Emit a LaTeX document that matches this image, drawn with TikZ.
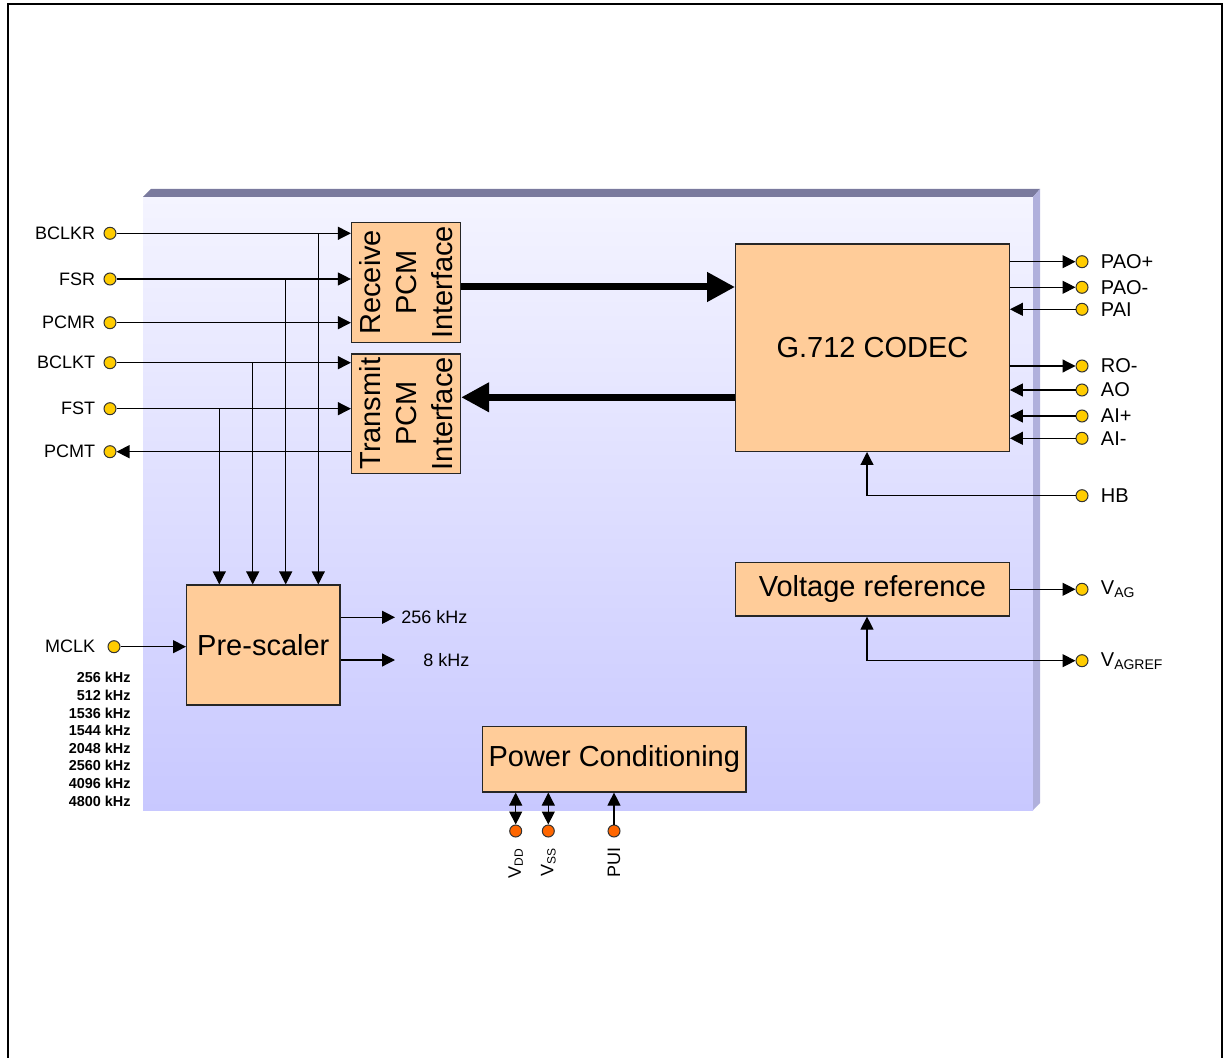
\documentclass[tikz,border=0pt]{standalone}
\usepackage{fontspec}
\setmainfont{Liberation Sans}
\usetikzlibrary{arrows.meta, positioning, calc}
\definecolor{codecPeach}{HTML}{FFCC99}
\definecolor{codecPin}{HTML}{FFCC00}
\definecolor{codecPwrPin}{HTML}{FF6600}
\definecolor{codecFaceTop}{HTML}{F4F4FF}
\definecolor{codecFaceBot}{HTML}{C8C8FF}
\definecolor{codecBevel}{HTML}{7A7A9E}
\definecolor{codecSide}{HTML}{B0B0DC}

\begin{document}
\begin{tikzpicture}[
        x=0.5pt, y=-0.5pt,
        >={Triangle[length=6.5pt, width=6.5pt]},
        blockbox/.style={
            draw=black!85,
            line width=0.6pt,
            fill=codecPeach,
            inner sep=0pt,
            font=\fontsize{14.5}{17.5}\selectfont
        },
        blocktext/.style={
            align=center,
            inner sep=0pt,
            font=\fontsize{14.5}{18}\selectfont
        },
        pinnode/.style={
            circle,
            draw=black!80,
            line width=0.5pt,
            fill=codecPin,
            inner sep=0pt,
            minimum size=6pt
        },
        pwrpin/.style={
            pinnode,
            fill=codecPwrPin
        },
        pinlbl/.style={
            inner sep=1pt,
            font=\fontsize{9}{10}\selectfont
        },
        rpinlbl/.style={
            inner sep=1pt,
            font=\fontsize{10}{11}\selectfont
        },
        freqlbl/.style={
            align=right,
            inner sep=0pt,
            font=\bfseries\fontsize{7.2}{8.8}\selectfont
        },
        sig/.style={
            line width=0.6pt
        },
        bus/.style={
            line width=3.5pt,
            -{Triangle[length=14pt, width=14pt]}
        }
    ]

    \useasboundingbox (0,0) rectangle (1225,1058);

    % outer frame and the chip body
    \draw[line width=1.4pt] (8,1080) -- (8,4) -- (1222,4) -- (1222,1080);
    \shade[top color=codecFaceTop, bottom color=codecFaceBot]
        (143,197) rectangle (1033,810);
    \fill[codecBevel] (143,197) -- (151,189) -- (1040,189) -- (1033,197) -- cycle;
    \fill[codecSide] (1033,197) -- (1040,189) -- (1040,803) -- (1033,810) -- cycle;

    % blocks
    \node[blockbox, minimum width=54.5pt, minimum height=60pt] (rcv) at (406,282.3) {};
    \node[blocktext, rotate=90] (rcvtext) at (rcv.center) {Receive\\PCM\\Interface};
    \node[blockbox, minimum width=54.5pt, minimum height=59.7pt] (xmt) at (406,413.7) {};
    \node[blocktext, rotate=90] (xmttext) at (xmt.center) {Transmit\\PCM\\Interface};
    \node[blockbox, minimum width=136.8pt, minimum height=103.7pt] (codec) at (872.5,347.7) {G.712 CODEC};
    \node[blockbox, minimum width=76.7pt, minimum height=60pt] (pre) at (263.3,645) {Pre-scaler};
    \node[blockbox, minimum width=136.8pt, minimum height=26.7pt] (vref) at (872.5,589.3) {Voltage reference};
    \node[blockbox, minimum width=131.7pt, minimum height=32.7pt] (pwr) at (614.3,759.3) {Power Conditioning};

    % left pins
    \node[pinnode, label={[pinlbl, label distance=3pt]left:BCLKR}] (bclkr) at (110,233.3) {};
    \node[pinnode, label={[pinlbl, label distance=3pt]left:FSR}] (fsr) at (110,279) {};
    \node[pinnode, label={[pinlbl, label distance=3pt]left:PCMR}] (pcmr) at (110,322.7) {};
    \node[pinnode, label={[pinlbl, label distance=3pt]left:BCLKT}] (bclkt) at (110,362.7) {};
    \node[pinnode, label={[pinlbl, label distance=3pt]left:FST}] (fst) at (110,408.7) {};
    \node[pinnode, label={[pinlbl, label distance=3pt]left:PCMT}] (pcmt) at (110,451.7) {};
    \node[pinnode, label={[pinlbl, label distance=5pt]left:MCLK}] (mclk) at (114,646.7) {};
    \node[freqlbl, anchor=north east] (mclkfreq) at (131,672)
        {256 kHz\\512 kHz\\1536 kHz\\1544 kHz\\2048 kHz\\2560 kHz\\4096 kHz\\4800 kHz};

    % right pins
    \node[pinnode, label={[rpinlbl, label distance=5pt]right:PAO+}] (paop) at (1082,261.7) {};
    \node[pinnode, label={[rpinlbl, label distance=5pt]right:PAO-}] (paom) at (1082,287.3) {};
    \node[pinnode, label={[rpinlbl, label distance=5pt]right:PAI}] (pai) at (1082,309.3) {};
    \node[pinnode, label={[rpinlbl, label distance=5pt]right:RO-}] (rom) at (1082,366) {};
    \node[pinnode, label={[rpinlbl, label distance=5pt]right:AO}] (ao) at (1082,390) {};
    \node[pinnode, label={[rpinlbl, label distance=5pt]right:AI+}] (aip) at (1082,416) {};
    \node[pinnode, label={[rpinlbl, label distance=5pt]right:AI-}] (aim) at (1082,438.3) {};
    \node[pinnode, label={[rpinlbl, label distance=5pt]right:HB}] (hb) at (1082,495.7) {};
    \node[pinnode, label={[rpinlbl, label distance=5pt]right:V\textsubscript{AG}}] (vag) at (1082,589.3) {};
    \node[pinnode, label={[rpinlbl, label distance=5pt]right:V\textsubscript{AGREF}}] (vagref) at (1082,660.7) {};

    % power pins
    \node[pwrpin] (vdd) at (515.7,831) {};
    \node[pwrpin] (vss) at (548.3,831) {};
    \node[pwrpin] (pui) at (614,831) {};
    \node[pinlbl, rotate=90, anchor=east] (vddlbl) at ([yshift=-4pt]vdd.south) {V\textsubscript{DD}};
    \node[pinlbl, rotate=90, anchor=east] (vsslbl) at ([yshift=-4pt]vss.south) {V\textsubscript{SS}};
    \node[pinlbl, rotate=90, anchor=east] (puilbl) at ([yshift=-4pt]pui.south) {PUI};

    % prescaler outputs
    \node[pinlbl, inner sep=3pt, anchor=west] (f256) at (395,617.3) {256 kHz};
    \node[pinlbl, inner sep=3pt, anchor=west] (f8) at (417,660) {8 kHz};

    % tap columns and bus rows
    \coordinate (xA) at (318.3,0);
    \coordinate (xB) at (285.7,0);
    \coordinate (xC) at (252.7,0);
    \coordinate (xD) at (219.3,0);
    \coordinate (xH) at (867,0);
    \coordinate (yR) at (0,287);
    \coordinate (yT) at (0,397.3);

    % PCM side
    \draw[sig,->] (bclkr) -- (bclkr -| rcv.west);
    \draw[sig,->] (fsr) -- (fsr -| rcv.west);
    \draw[sig,->] (pcmr) -- (pcmr -| rcv.west);
    \draw[sig,->] (bclkt) -- (bclkt -| xmt.west);
    \draw[sig,->] (fst) -- (fst -| xmt.west);
    \draw[sig,->] (xmt.west |- pcmt) -- (pcmt);
    \draw[sig,->] (bclkr -| xA) -- (xA |- pre.north);
    \draw[sig,->] (fsr -| xB) -- (xB |- pre.north);
    \draw[sig,->] (bclkt -| xC) -- (xC |- pre.north);
    \draw[sig,->] (fst -| xD) -- (xD |- pre.north);

    % prescaler
    \draw[sig,->] (mclk) -- (mclk -| pre.west);
    \draw[sig,->] (pre.east |- f256) -- (f256.west);
    \draw[sig,->] (pre.east |- f8) -- (f256.west |- f8);

    % data paths
    \draw[bus] (rcv.east |- yR) -- (codec.west |- yR);
    \draw[bus] (codec.west |- yT) -- (xmt.east |- yT);

    % codec pins
    \draw[sig,->] (codec.east |- paop) -- (paop);
    \draw[sig,->] (codec.east |- paom) -- (paom);
    \draw[sig,->] (pai) -- (pai -| codec.east);
    \draw[sig,->] (codec.east |- rom) -- (rom);
    \draw[sig,->] (ao) -- (ao -| codec.east);
    \draw[sig,->] (aip) -- (aip -| codec.east);
    \draw[sig,->] (aim) -- (aim -| codec.east);
    \draw[sig,->] (hb) -| (codec.south -| xH);

    % reference
    \draw[sig,->] (vref.east |- vag) -- (vag);
    \draw[sig,<->] (vref.south -| xH) |- (vagref);

    % supply
    \draw[sig,<->] (pwr.south -| vdd) -- (vdd);
    \draw[sig,<->] (pwr.south -| vss) -- (vss);
    \draw[sig,->] (pui) -- (pui |- pwr.south);

\end{tikzpicture}
\end{document}
